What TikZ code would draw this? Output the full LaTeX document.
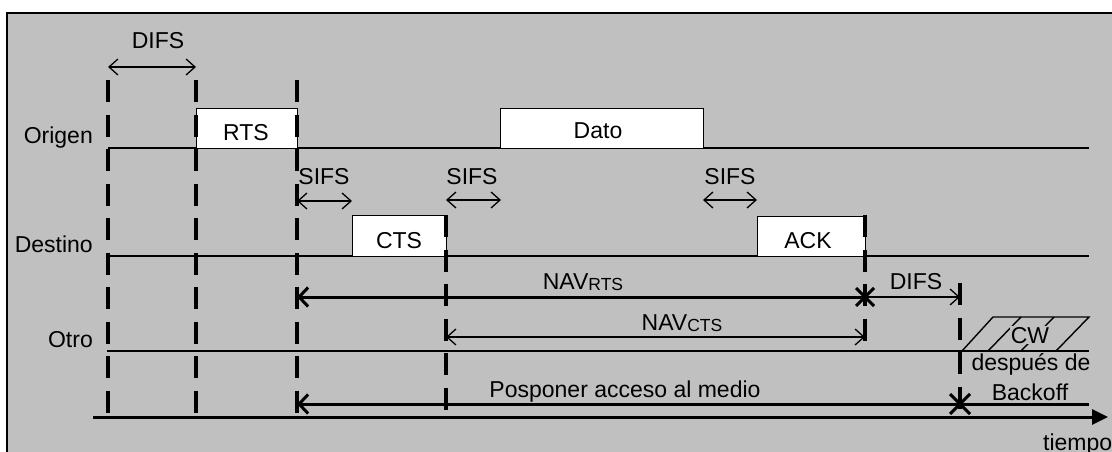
\documentclass[tikz,border=0pt]{standalone}
\usepackage{fontspec}
\setmainfont{Liberation Sans}
\usetikzlibrary{arrows.meta}
\definecolor{panel}{HTML}{C0C0C0}
% subscript set in smaller capitals, slightly lowered
\newcommand{\navsub}[1]{\raisebox{-1.8pt}{\fontsize{17.5}{17.5}\selectfont #1}}
\begin{document}
\begin{tikzpicture}[x=1pt,y=-1pt,
  lbl/.style={font=\fontsize{23}{23}\selectfont, inner sep=0pt, anchor=base},
  frame/.style={draw=black, fill=white, line width=1.4pt, inner sep=0pt, anchor=north west},
  track/.style={line width=1.8pt},
  guide/.style={line width=3.4pt, dash pattern=on 22pt off 12.5pt},
  ifs span/.style={line width=1.3pt, {Straight Barb[length=9pt,width=16pt]}-{Straight Barb[length=9pt,width=16pt]}},
  ifs right/.style={line width=1.3pt, -{Straight Barb[length=9pt,width=16pt]}},
  heavy left/.style={line width=3pt, {Straight Barb[length=9pt,width=19pt]}-},
  cross/.style={line width=3pt},
  axis/.style={line width=3pt, -{Triangle[length=16pt,width=15pt]}},
  hatch/.style={line width=1.4pt},
]
\useasboundingbox (0,0) rectangle (1112,452);
\fill[white] (0,0) rectangle (1112,452);
\draw[fill=panel, line width=1.5pt] (7,13) rectangle (1118,458);

% station time lines
\coordinate (oS) at (108,148); \coordinate (oE) at (1089,148);
\coordinate (dS) at (108,256); \coordinate (dE) at (1089,256);
\coordinate (nS) at (107,351); \coordinate (nE) at (1089,351);
\draw[track] (oS) -- (oE);
\draw[track] (dS) -- (dE);
\draw[track] (nS) -- (nE);

% time axis
\coordinate (axS) at (93,417); \coordinate (axE) at (1108,417);
\draw[axis] (axS) -- (axE);
\node[lbl, anchor=base west] (tiempo) at (1043,450) {tiempo};

% station names
\node[lbl, anchor=base east] (origen) at (93,143) {Origen};
\node[lbl, anchor=base east] (destino) at (93,252) {Destino};
\node[lbl, anchor=base east] (otro) at (93,347) {Otro};

% frames
\node[frame, minimum width=101pt, minimum height=40pt] (rts) at (196,108) {};
\node[frame, minimum width=203pt, minimum height=40pt] (dato) at (500,108) {};
\node[frame, minimum width=94pt, minimum height=41pt] (cts) at (352,215) {};
\node[frame, minimum width=108pt, minimum height=40pt] (ack) at (757,216) {};
\node[lbl] (rtsT) at (246,140) {RTS};
\node[lbl] (datoT) at (598,139) {Dato};
\node[lbl] (ctsT) at (399,248) {CTS};
\node[lbl] (ackT) at (808,248) {ACK};

% instants (vertical guides)
\coordinate (g1a) at (108,80);  \coordinate (g1b) at (108,413);
\coordinate (g2a) at (196,80);  \coordinate (g2b) at (196,413);
\coordinate (g3a) at (297,80);  \coordinate (g3b) at (297,413);
\coordinate (g4a) at (446,215); \coordinate (g4b) at (446,412);
\coordinate (g5a) at (865,215); \coordinate (g5b) at (865,343);
\coordinate (g6a) at (960,283); \coordinate (g6b) at (960,413);
\foreach \g in {1,...,6} \draw[guide] (g\g a) -- (g\g b);

% DIFS before RTS
\coordinate (difsL) at (108,67); \coordinate (difsR) at (196,67);
\draw[ifs span] (difsL) -- (difsR);
\node[lbl] (difsT) at (158,49) {DIFS};

% SIFS intervals
\coordinate (s1L) at (297,201); \coordinate (s1R) at (352,201);
\coordinate (s2L) at (446,200); \coordinate (s2R) at (501,200);
\coordinate (s3L) at (703,200); \coordinate (s3R) at (757,200);
\draw[ifs span] (s1L) -- (s1R);
\draw[ifs span] (s2L) -- (s2R);
\draw[ifs span] (s3L) -- (s3R);
\node[lbl] (s1T) at (324,184) {SIFS};
\node[lbl] (s2T) at (472,184) {SIFS};
\node[lbl] (s3T) at (730,184) {SIFS};

% NAV (RTS)
\coordinate (navrL) at (297,297); \coordinate (navrR) at (865,297);
\draw[heavy left] (navrL) -- (navrR);
\node[lbl] (navrT) at (583,289) {NAV\navsub{RTS}};
\draw[cross] (navrR) ++(-9,-9) -- ++(18,18);
\draw[cross] (navrR) ++(-9,9) -- ++(18,-18);

% DIFS after ACK
\coordinate (difs2R) at (960,297);
\draw[ifs right] (navrR) -- (difs2R);
\node[lbl] (difs2T) at (916,289) {DIFS};

% NAV (CTS)
\coordinate (navcL) at (446,337); \coordinate (navcR) at (865,337);
\draw[ifs span] (navcL) -- (navcR);
\node[lbl] (navcT) at (682,330) {NAV\navsub{CTS}};

% deferred access
\coordinate (defL) at (297,404); \coordinate (defX) at (960,404); \coordinate (defE) at (1089,404);
\draw[heavy left] (defL) -- (defE);
\node[lbl] (defT) at (625,397) {Posponer acceso al medio};
\draw[cross] (defX) ++(-10,-10) -- ++(20,20);
\draw[cross] (defX) ++(-10,10) -- ++(20,-20);

% contention window
\draw[hatch] (962,351) -- (993,317) -- (1089,317) -- (1056,351);
\draw[hatch] (988,351) -- (1021,317);
\draw[hatch] (1021,351) -- (1054,317);
\node[lbl, fill=panel, inner sep=1pt] (cwT) at (1030,343) {CW};
\node[lbl] (bo1) at (1031,370) {después de};
\node[lbl] (bo2) at (1030,400) {Backoff};
\end{tikzpicture}
\end{document}
